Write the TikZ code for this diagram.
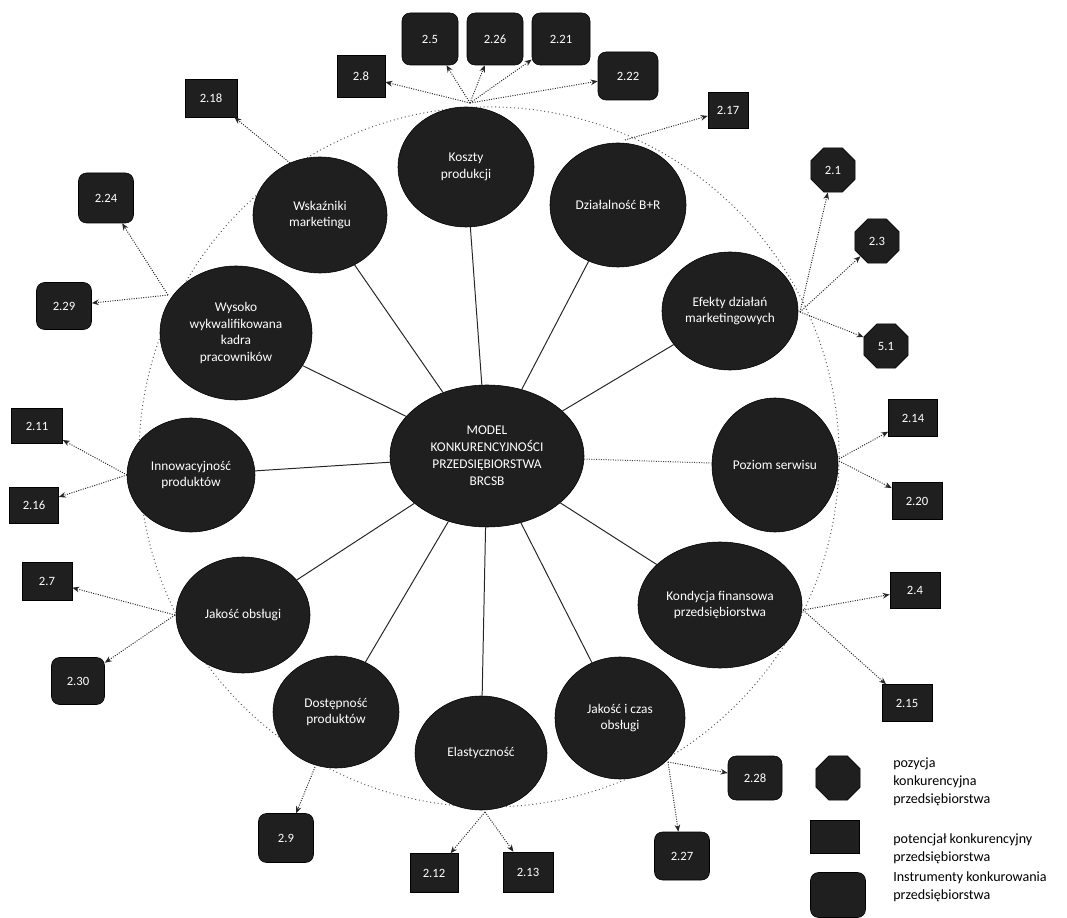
\documentclass[tikz,border=0pt]{standalone}
\usepackage{fontspec}
\setmainfont{Carlito}
\usetikzlibrary{shapes.geometric,arrows.meta}
\begin{document}
\begin{tikzpicture}[x=0.025cm,y=-0.025cm,
 ell/.style 2 args={ellipse, draw=black, fill=black!88, text=white, minimum width=#1*0.025cm, minimum height=#2*0.025cm, inner sep=0pt, align=center, font=\fontsize{9.5}{12}\selectfont},
 pbox/.style 2 args={rectangle, draw=black, fill=black!88, text=white, minimum width=#1*0.025cm, minimum height=#2*0.025cm, inner sep=0pt, font=\fontsize{9}{10}\selectfont},
 ibox/.style 2 args={pbox={#1}{#2}, rounded corners=2mm},
 posnode/.style={regular polygon, regular polygon sides=8, draw=black, fill=black!88, text=white, minimum size=48*0.025cm, inner sep=0pt, font=\fontsize{9}{10}\selectfont},
 link/.style={line width=0.7pt, black!85},
 arr/.style={densely dotted, line width=0.7pt, black!85, -{Stealth[length=5pt,width=4pt]}},
 legtext/.style={anchor=west, align=left, font=\fontsize{10}{13}\selectfont, inner sep=0pt}
]
\useasboundingbox (0,0) rectangle (1067,918);
% big dotted circle
\draw[dotted, line width=0.7pt, black!65] (489,457) circle [radius=8.75cm];

% centre
\node[ell={194}{142}] (c) at (487,456) {MODEL\\KONKURENCYJNOŚCI\\PRZEDSIĘBIORSTWA\\BRCSB};

% outer ellipses
\node[ell={136}{120}] (e1) at (466,167) {Koszty\\produkcji};
\node[ell={136}{124}] (e2) at (618,205) {Działalność B+R};
\node[ell={134}{116}] (e3) at (320,215) {Wskaźniki\\marketingu};
\node[ell={152}{134}] (e4) at (236,333) {Wysoko\\wykwalifikowana\\kadra\\pracowników};
\node[ell={136}{118}] (e5) at (730,311) {Efekty działań\\marketingowych};
\node[ell={128}{114}] (e6) at (191,475) {Innowacyjność\\produktów};
\node[ell={126}{134}] (e7) at (775,465) {Poziom serwisu};
\node[ell={134}{116}] (e8) at (243,615) {Jakość obsługi};
\node[ell={164}{126}] (e9) at (720,605) {Kondycja finansowa\\przedsiębiorstwa};
\node[ell={126}{112}] (e10) at (336,712) {Dostępność\\produktów};
\node[ell={132}{114}] (e11) at (481,753) {Elastyczność};
\node[ell={130}{122}] (e12) at (620,718) {Jakość i czas\\obsługi};

% centre links
\foreach \e in {e1,e2,e3,e4,e5,e6,e8,e9,e10,e11,e12}
  \draw[link] (c) -- (\e);
\draw[densely dotted, line width=0.7pt, black!75] (c) -- (e7);

% boxes
\node[pbox={48}{42}] (bA) at (361,76) {2.8};
\node[ibox={56}{52}] (b1) at (430,39) {2.5};
\node[ibox={56}{52}] (b2) at (495,39) {2.26};
\node[ibox={58}{52}] (b3) at (561,39) {2.21};
\node[ibox={60}{48}] (b4) at (628,76) {2.22};
\node[pbox={40}{36}] (bC) at (728,110) {2.17};
\node[pbox={52}{38}] (bD) at (211,98) {2.18};
\node[ibox={55}{50}] (bE) at (106,198) {2.24};
\node[ibox={55}{47}] (bF) at (64,306) {2.29};
\node[pbox={51}{35}] (bG) at (37,426) {2.11};
\node[pbox={49}{36}] (bH) at (34,505) {2.16};
\node[pbox={50}{38}] (bI) at (47,581) {2.7};
\node[ibox={53}{47}] (bJ) at (78,681) {2.30};
\node[ibox={55}{49}] (bK) at (286,838) {2.9};
\node[pbox={48}{39}] (bL) at (434,873) {2.12};
\node[pbox={50}{40}] (bM) at (528,872) {2.13};
\node[ibox={55}{48}] (bN) at (682,856) {2.27};
\node[ibox={54}{44}] (bO) at (755,778) {2.28};
\node[pbox={50}{37}] (bP) at (907,703) {2.15};
\node[pbox={50}{36}] (bQ) at (915,590) {2.4};
\node[pbox={49}{37}] (bR) at (913,418) {2.14};
\node[pbox={50}{37}] (bS) at (917,501) {2.20};
\node[posnode] (t1) at (833,170) {2.1};
\node[posnode] (t2) at (877,241) {2.3};
\node[posnode] (t3) at (886,346) {5.1};

% emission points
\coordinate (p1) at (470,103);
\coordinate (p2) at (625,140);
\coordinate (p3) at (290,163);
\coordinate (p4) at (168,295);
\coordinate (p5) at (800,312);
\coordinate (p6) at (127,475);
\coordinate (p7) at (837,460);
\coordinate (p8) at (175,615);
\coordinate (p9) at (803,610);
\coordinate (p10) at (315,767);
\coordinate (p11) at (485,812);
\coordinate (p12) at (668,762);

\foreach \b in {bA,b1,b2,b3,b4} \draw[arr] (p1) -- (\b);
\draw[arr] (p2) -- (bC);
\draw[arr] (p3) -- (bD);
\draw[arr] (p4) -- (bE);
\draw[arr] (p4) -- (bF);
\foreach \b in {t1,t2,t3} \draw[arr] (p5) -- (\b);
\draw[arr] (p6) -- (bG);
\draw[arr] (p6) -- (bH);
\draw[arr] (p7) -- (bR);
\draw[arr] (p7) -- (bS);
\draw[arr] (p8) -- (bI);
\draw[arr] (p8) -- (bJ);
\draw[arr] (p9) -- (bQ);
\draw[arr] (p9) -- (bP);
\draw[arr] (p10) -- (bK);
\draw[arr] (p11) -- (bL);
\draw[arr] (p11) -- (bM);
\draw[arr] (p12) -- (bN);
\draw[arr] (p12) -- (bO);

% legend
\node[posnode] (lg1) at (838,778) {};
\node[legtext] (lt1) at (893,782) {pozycja\\konkurencyjna\\przedsiębiorstwa};
\node[pbox={49}{33}] (lg2) at (835,837) {};
\node[legtext] (lt2) at (893,849) {potencjał konkurencyjny\\przedsiębiorstwa};
\node[ibox={55}{45}] (lg3) at (838,895) {};
\node[legtext] (lt3) at (893,887) {Instrumenty konkurowania\\przedsiębiorstwa};
\end{tikzpicture}
\end{document}
